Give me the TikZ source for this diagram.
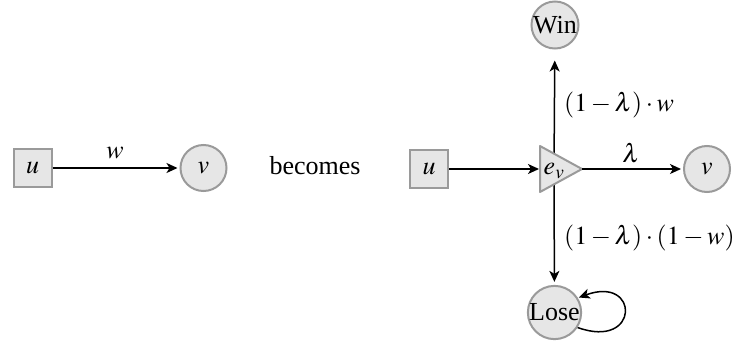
\documentclass[tikz,border=0pt]{standalone}
\usepackage{mathptmx}
\usepackage{fontspec}
\setmainfont{Liberation Serif}
\usetikzlibrary{arrows.meta}
\definecolor{nodefill}{HTML}{E6E6E6}
\definecolor{nodeline}{HTML}{9A9A9A}
\begin{document}
\begin{tikzpicture}[x=1pt,y=-1pt,font=\fontsize{26}{30}\selectfont,
  sqnode/.style={draw=nodeline,fill=nodefill,line width=2pt,minimum size=38pt,inner sep=0pt},
  circnode/.style={circle,draw=nodeline,fill=nodefill,line width=2pt,minimum size=46pt,inner sep=0pt},
  arr/.style={-{Stealth[length=11pt,width=10pt,inset=3pt]},line width=1.5pt},
  lbl/.style={inner sep=0pt}]
\useasboundingbox (0,0) rectangle (737,343);
% left graph
\node[sqnode] (u1) at (32.5,168) {$u$};
\node[circnode] (v1) at (203.5,168) {$v$};
\draw[arr,shorten >=2pt] (u1) -- (v1);
\node[lbl] (w1) at (115,153) {$w$};
\node[lbl] (becomes) at (315,166) {becomes};
% right graph
\node[sqnode] (u2) at (429,169) {$u$};
\node[circnode] (v2) at (707,169) {$v$};
\node[circnode] (win) at (555,25) {Win};
\node[circnode] (lose) at (554.5,312.5) {Lose};
\coordinate (ec) at (554,169);
\coordinate (ewest) at (540,169);
\coordinate (eapex) at (582,169);
\coordinate (etop) at (540,146);
\coordinate (ebot) at (540,192);
\draw[arr,shorten >=11pt] (ec) -- (win);
\draw[arr,shorten >=3pt] (ec) -- (lose);
\draw[draw=nodeline,fill=nodefill,line width=2pt,line join=round] (etop) -- (eapex) -- (ebot) -- cycle;
\node[lbl] (ev) at (554,171) {$e_v$};
\draw[arr,shorten >=1pt] (u2) -- (ewest);
\draw[arr,shorten >=2pt] (eapex) -- (v2);
\node[lbl] (lam) at (631,153) {$\lambda$};
\node[lbl,anchor=west] (lw) at (564,105) {$(1-\lambda)\cdot w$};
\node[lbl,anchor=west] (lnw) at (564,238) {$(1-\lambda)\cdot(1-w)$};
\draw[arr,shorten >=1pt] (lose.-33) .. controls (640,350) and (640,275) .. (lose.32);
\end{tikzpicture}
\end{document}
